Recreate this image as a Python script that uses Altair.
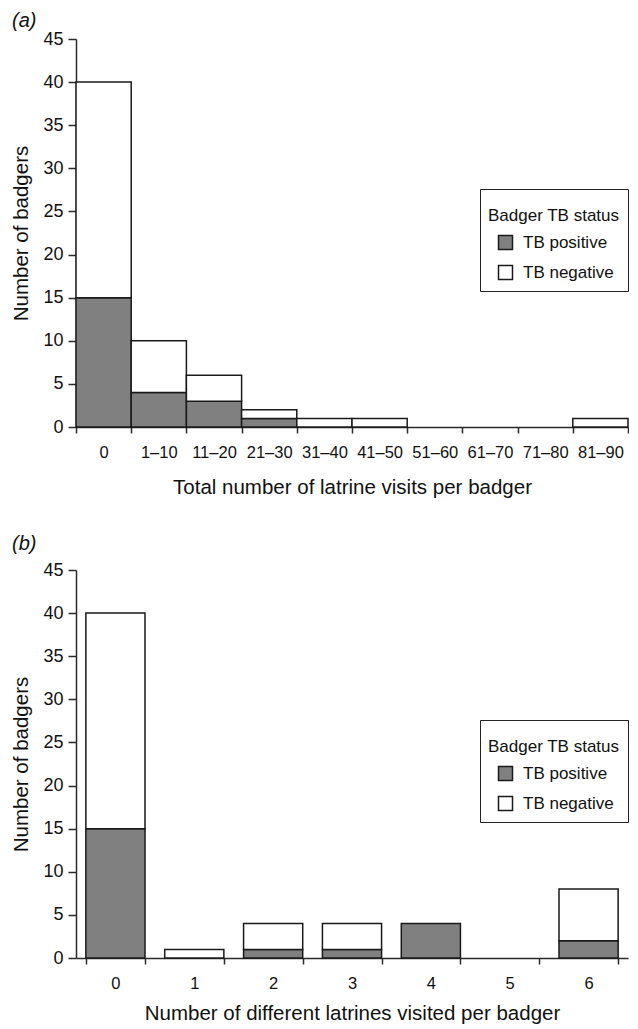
import altair as alt
import pandas as pd

FONT = "Liberation Sans"

# Panel (a): total number of latrine visits per badger
cats_a = ["0", "1–10", "11–20", "21–30", "31–40", "41–50",
          "51–60", "61–70", "71–80", "81–90"]
pos_a = [15, 4, 3, 1, 0, 0, 0, 0, 0, 0]
neg_a = [25, 6, 3, 1, 1, 1, 0, 0, 0, 1]

# Panel (b): number of different latrines visited per badger
cats_b = ["0", "1", "2", "3", "4", "5", "6"]
pos_b = [15, 0, 1, 1, 4, 0, 2]
neg_b = [25, 1, 3, 3, 0, 0, 6]

status_names = ["TB positive", "TB negative"]
status_colors = ["#808080", "#ffffff"]
y_ticks = [0, 5, 10, 15, 20, 25, 30, 35, 40, 45]


def long_df(cats, pos, neg):
    rows = []
    for c, p, n in zip(cats, pos, neg):
        rows.append({"cat": c, "status": status_names[0], "ord": 0, "count": p})
        rows.append({"cat": c, "status": status_names[1], "ord": 1, "count": n})
    return pd.DataFrame(rows)


def panel(cats, pos, neg, label, xtitle, pin, pout, toff, xlpad, xtpad):
    df = long_df(cats, pos, neg)
    return (
        alt.Chart(
            df,
            title=alt.TitleParams(
                label, anchor="start", frame="bounds", font=FONT,
                fontSize=20, fontStyle="italic", fontWeight="normal",
                color="#111111", offset=toff,
            ),
        )
        .transform_filter("datum.count > 0")
        .mark_bar(stroke="#1a1a1a", strokeWidth=1.5)
        .encode(
            x=alt.X(
                "cat:N",
                sort=cats,
                scale=alt.Scale(domain=cats, paddingInner=pin, paddingOuter=pout),
                axis=alt.Axis(title=xtitle, labelAngle=0, tickBand="extent",
                              labelPadding=xlpad, titlePadding=xtpad),
            ),
            y=alt.Y(
                "count:Q",
                stack="zero",
                scale=alt.Scale(domain=[0, 45], nice=False),
                axis=alt.Axis(values=y_ticks, title="Number of badgers"),
            ),
            color=alt.Color(
                "status:N",
                scale=alt.Scale(domain=status_names, range=status_colors),
                legend=alt.Legend(
                    title=["", "Badger TB status"],
                    titleLineHeight=11,
                    orient="none",
                    legendX=404,
                    legendY=150,
                    strokeColor="#222222",
                    fillColor="#ffffff",
                    padding=8,
                    titleFont=FONT,
                    titleFontSize=17,
                    titleFontWeight="normal",
                    titleColor="#111111",
                    titlePadding=9,
                    labelFont=FONT,
                    labelFontSize=17,
                    labelColor="#111111",
                    symbolType="square",
                    symbolSize=196,
                    symbolStrokeColor="#1a1a1a",
                    symbolStrokeWidth=1.5,
                    symbolOffset=9,
                    labelOffset=9,
                    rowPadding=9,
                ),
            ),
            order=alt.Order("ord:Q"),
        )
        .properties(width=552, height=388)
    )


chart_a = panel(cats_a, pos_a, neg_a, "(a)",
                "Total number of latrine visits per badger", 0, 0, -1, 11, 17)
chart_b = panel(cats_b, pos_b, neg_b, "(b)",
                "Number of different latrines visited per badger", 0.25, 0.125, 7, 11, 12)

chart = (
    alt.vconcat(chart_a, chart_b, spacing=36)
    .resolve_legend(color="independent")
    .properties(padding={"left": 3, "top": 3, "right": 0, "bottom": 0})
    .configure_view(stroke=None)
    .configure_axis(
        grid=False,
        domainColor="#2a2a2a",
        domainWidth=1.5,
        tickColor="#2a2a2a",
        tickWidth=1.5,
        labelFont=FONT,
        titleFont=FONT,
        labelColor="#111111",
        titleColor="#111111",
        titleFontWeight="normal",
        titleFontSize=20.5,
    )
    .configure_axisX(labelFontSize=16.5, tickSize=6)
    .configure_axisY(labelFontSize=18, tickSize=8, labelPadding=5, titlePadding=11)
)

chart.save("out.html", embed_options={"renderer": "svg", "actions": False})
